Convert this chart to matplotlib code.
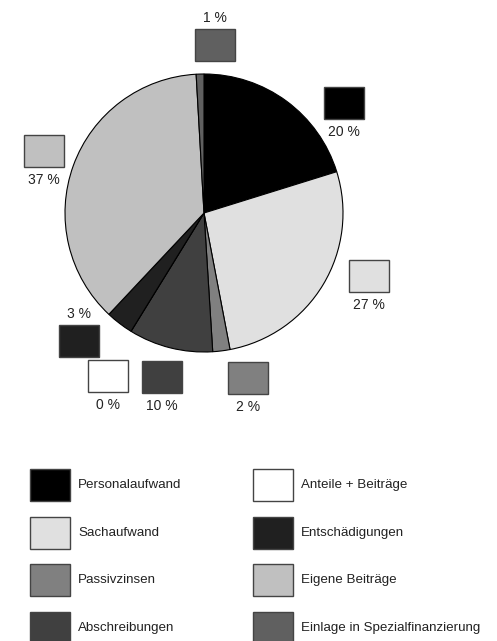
import matplotlib.pyplot as plt
from matplotlib.patches import Rectangle

plt.rcParams['font.family'] = ['Liberation Sans', 'DejaVu Sans']

categories = ['Personalaufwand', 'Sachaufwand', 'Passivzinsen', 'Abschreibungen',
              'Anteile + Beiträge', 'Entschädigungen', 'Eigene Beiträge',
              'Einlage in Spezialfinanzierung']
shares = [20.2, 26.8, 2.0, 9.8, 0.0, 3.2, 37.1, 0.9]
colors = ['#000000', '#e0e0e0', '#808080', '#404040',
          '#ffffff', '#202020', '#c0c0c0', '#606060']

# pixel layout of the little label boxes (left, top, text above?)
label_boxes = [(324, 87, False), (349, 260, False), (228, 362, False), (142, 361, False),
               (88, 360, False), (59, 325, True), (24, 135, False), (195, 29, True)]

fig = plt.figure(figsize=(4.97, 6.41), dpi=100)
ax = fig.add_axes([0, 0, 1, 1])
ax.set_xlim(0, 497)
ax.set_ylim(641, 0)
ax.axis('off')

ax.pie(shares, colors=colors, startangle=-90, counterclock=True,
       center=(204, 213), radius=139, normalize=True,
       wedgeprops=dict(edgecolor='black', linewidth=0.8))
ax.set_xlim(0, 497)
ax.set_ylim(641, 0)
ax.set_aspect('auto')

txt_col = '#222222'
for val, col, (bx, by, above) in zip(shares, colors, label_boxes):
    ax.add_patch(Rectangle((bx, by), 40, 32, facecolor=col, edgecolor='#444444', lw=1))
    lab = f'{round(val):d} %'
    if above:
        ax.text(bx + 20, by - 11, lab, ha='center', va='center', fontsize=10, color=txt_col)
    else:
        ax.text(bx + 20, by + 45, lab, ha='center', va='center', fontsize=10, color=txt_col)

# legend, two columns of four
for i, (name, col) in enumerate(zip(categories, colors)):
    colx = 30 if i < 4 else 253
    rowy = 469 + (i % 4) * 47.7
    ax.add_patch(Rectangle((colx, rowy), 40, 32, facecolor=col, edgecolor='#444444', lw=1))
    ax.text(colx + 48, rowy + 16, name, ha='left', va='center', fontsize=9.6, color=txt_col)

fig.savefig('out.png', dpi=100)
